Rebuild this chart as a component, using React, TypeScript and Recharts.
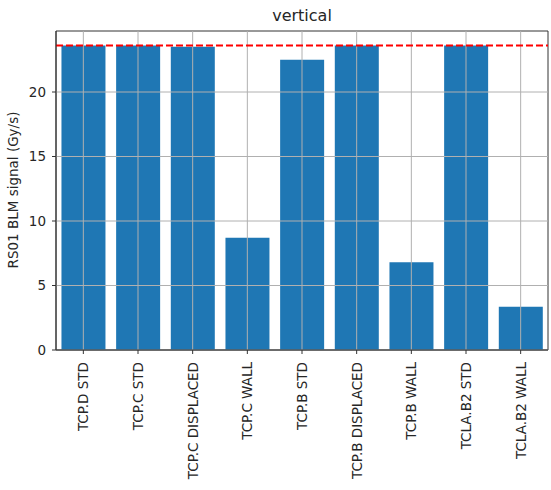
import React from 'react';
import { BarChart, Bar, XAxis, YAxis, ReferenceLine, ReferenceArea } from 'recharts';

const categories = [
  'TCP.D STD',
  'TCP.C STD',
  'TCP.C DISPLACED',
  'TCP.C WALL',
  'TCP.B STD',
  'TCP.B DISPLACED',
  'TCP.B WALL',
  'TCLA.B2 STD',
  'TCLA.B2 WALL',
];
const signalValues = [23.6, 23.6, 23.5, 8.7, 22.5, 23.6, 6.8, 23.6, 3.35];
const yTicks = [0, 5, 10, 15, 20];
const thresholdValue = 23.6;
const yMax = 24.73;

const data = categories.map((name, i) => ({ name, value: signalValues[i] }));

const FONT = '"DejaVu Sans", sans-serif';
const TEXT = '#262626';
const GRID = '#b0b0b0';

const XTick = (props: any) => {
  const { x, y, payload } = props;
  return (
    <g transform={`translate(${x},${y})`}>
      <text
        x={0}
        y={0}
        dy="0.36em"
        transform="rotate(-90)"
        textAnchor="end"
        fontFamily={FONT}
        fontSize={13.5}
        fill={TEXT}
      >
        {payload.value}
      </text>
    </g>
  );
};

export default function App() {
  return (
    <div style={{ position: 'absolute', left: 0, top: 0, width: 551, height: 490 }}>
      <BarChart
        width={551}
        height={490}
        data={data}
        margin={{ top: 31, right: 3, bottom: 0, left: 0 }}
        barCategoryGap="10%"
      >
        <Bar dataKey="value" fill="#1f77b4" isAnimationActive={false} />
        {yTicks.map((t) => (
          <ReferenceLine key={`gy${t}`} y={t} stroke={GRID} strokeWidth={1} />
        ))}
        {categories.map((c) => (
          <ReferenceLine key={`gx${c}`} x={c} stroke={GRID} strokeWidth={1} />
        ))}
        <ReferenceLine
          y={thresholdValue}
          stroke="#ff0000"
          strokeWidth={2}
          strokeDasharray="7 3"
        />
        <ReferenceArea
          y1={0}
          y2={yMax}
          fill="none"
          fillOpacity={0}
          stroke="#333"
          strokeWidth={1}
        />
        <XAxis
          dataKey="name"
          interval={0}
          height={140}
          tick={<XTick />}
          tickSize={4}
          tickMargin={8}
          tickLine={{ stroke: '#333' }}
          axisLine={{ stroke: '#333' }}
        />
        <YAxis
          width={56}
          domain={[0, yMax]}
          ticks={yTicks}
          allowDataOverflow
          tickSize={4}
          tickMargin={6}
          tickLine={{ stroke: '#333' }}
          axisLine={{ stroke: '#333' }}
          tick={{ fontFamily: FONT, fontSize: 13.5, fill: TEXT }}
        />
      </BarChart>
      <svg
        width={551}
        height={490}
        style={{ position: 'absolute', left: 0, top: 0, pointerEvents: 'none' }}
      >
        <text x={302} y={21} textAnchor="middle" fontFamily={FONT} fontSize={16} fill={TEXT}>
          vertical
        </text>
        <text
          x={13}
          y={190}
          transform="rotate(-90 13 190)"
          textAnchor="middle"
          dominantBaseline="central"
          fontFamily={FONT}
          fontSize={13.5}
          fill={TEXT}
        >
          RS01 BLM signal (Gy/s)
        </text>
      </svg>
    </div>
  );
}
